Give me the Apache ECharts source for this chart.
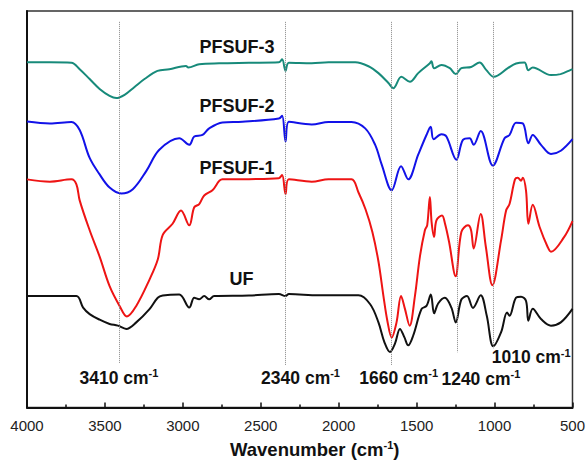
<!DOCTYPE html>
<html>
<head>
<meta charset="utf-8">
<script src="https://cdn.jsdelivr.net/npm/echarts@6/dist/echarts.min.js"></script>
<style>
html,body{margin:0;padding:0;background:#fff;}
#chart{width:588px;height:464px;}
</style>
</head>
<body>
<div id="chart"></div>
<script>
// ---- data (wavenumber in cm-1, transmittance in arbitrary offset units) ----
const xTicks = [4000, 3500, 3000, 2500, 2000, 1500, 1000, 500];
const peakWn = [3410, 2340, 1660, 1240, 1010];
const peakLabels = ['3410 cm', '2340 cm', '1660 cm', '1240 cm', '1010 cm'];
const seriesNames = ['PFSUF-3', 'PFSUF-2', 'PFSUF-1', 'UF'];

const wnPF3 = [4000,3853,3715,3662,3598,3534,3470,3427,3374,3310,3246,3163,3087,2980,2965,2895,2767,2576,2384,2363,2341,2320,2173,2065,1894,1809,1745,1681,1650,1598,1543,1490,1415,1405,1388,1341,1287,1249,1213,1150,1096,1054,1005,915,862,808,783,755,638,577,511,500];
const tPF3 = [350,350,349.5,343,333,323,316,313.7,317,325,333,341.3,343,346.3,344.7,348,349,349.5,350,353,341.3,349.5,349,350,350,346,339,329,323.7,335.3,330.3,339,349,351,344,347.3,344,338,344,345.3,349.7,342.3,335.3,344,348.7,349.7,342,344.7,337,338,342.3,343];

const wnPF2 = [4000,3853,3715,3662,3598,3534,3470,3395,3321,3235,3151,3023,2959,2927,2874,2831,2746,2618,2384,2363,2341,2320,2173,2065,1918,1830,1766,1724,1660,1600,1554,1490,1437,1410,1391,1341,1309,1245,1203,1160,1134,1089,1011,936,904,862,819,783,755,702,638,575,500];
const tPF2 = [290,288,289.5,281.3,253,236.3,223,217,221.3,239.7,261.3,273,266.3,274.7,276.3,283,289,289.7,293,295.7,269.7,289.7,287,289.5,289.5,283,266.3,246.3,220.3,244.7,231.3,256.3,276.3,284.7,272,277,274.7,251.3,271.3,273,266.3,280.3,245.3,273,276.3,288.7,288,268,276.3,266.3,257,260.3,272];

const wnPF1 = [4000,3853,3715,3683,3662,3598,3534,3470,3406,3359,3299,3214,3161,3129,3066,3012,2959,2927,2895,2863,2810,2746,2576,2384,2363,2341,2320,2173,2065,1918,1873,1828,1784,1745,1713,1688,1660,1629,1600,1575,1545,1511,1479,1447,1432,1415,1404,1388,1373,1337,1319,1292,1250,1213,1171,1151,1134,1089,1056,1014,958,926,904,869,851,830,819,798,783,755,711,660,638,553,500];
const tPF1 = [231.3,229,231.3,226.3,210,179.7,153,123,103,92.3,103,129.7,150,175,186.3,199.7,184.7,203,206.3,215,220.3,231.3,231.5,232.5,235.7,216.3,231.3,229,231.5,231.3,218,201,178,148,113,88,71,86.3,113,100,83,113,153,179.7,185,213.5,188,173,189.7,194.7,187,168,133,178,184.7,180,161.3,196.3,163,124,169.7,199.7,206.3,231.3,233,230,233,219.7,186.3,205.5,183,163,158,173,189];

const wnUF = [4000,3853,3683,3640,3598,3534,3470,3417,3363,3299,3214,3161,3129,3023,2959,2927,2895,2863,2831,2799,2576,2384,2341,2320,2129,1873,1798,1745,1707,1671,1639,1607,1579,1554,1522,1469,1437,1409,1388,1362,1319,1277,1249,1213,1177,1139,1089,1050,1008,958,920,904,862,830,798,783,755,702,638,575,500];
const tUF = [113,113,113,101.3,94.7,89,84.7,83,79.7,86.3,99.7,111.3,113.5,114.5,101.3,111.3,109.7,113,109.7,113,113.5,115,113,115,113.7,113.7,104.7,86.3,66.3,56.3,64.7,79.7,71.3,63,73,99.7,103,114.5,95.5,105.5,111.3,101.3,86.3,109.5,113,101,113.7,93,62,76.3,96.3,93,111.3,112.3,108,88,100,89.7,83,86.3,100];

// ---- styles ----
const FONT = "'Liberation Sans', Arial, sans-serif";
const colors = ['#178a7a', '#1212e8', '#ee1414', '#111111'];
const pairs = (w, t) => w.map((x, i) => [x, t[i]]);

const richCm = {
  a: {fontSize: 17.5, fontWeight: 'bold', color: '#111', fontFamily: FONT, lineHeight: 20},
  s: {fontSize: 11, fontWeight: 'bold', color: '#111', fontFamily: FONT, verticalAlign: 'top', lineHeight: 12}
};

// label placement (style)
const seriesLabelPos = [[2652, 365], [2652, 306], [2652, 243], [2624, 130]];
const peakLabelPos = [[3410, 30], [2245, 30], [1615, 30], [1088, 29], [765, 51]];
const peakLineTop = 391;
const peakLineBottom = [45, 43, 43, 56, 60];

const dataSets = [pairs(wnPF3, tPF3), pairs(wnPF2, tPF2), pairs(wnPF1, tPF1), pairs(wnUF, tUF)];

const series = dataSets.map((d, i) => ({
  name: seriesNames[i],
  type: 'line',
  data: d,
  smooth: 0.35,
  showSymbol: false,
  symbol: 'none',
  lineStyle: {color: colors[i], width: 2},
  z: 3,
  markPoint: {
    symbol: 'rect', symbolSize: 1, silent: true,
    itemStyle: {color: 'rgba(0,0,0,0)'},
    data: [{coord: seriesLabelPos[i], value: seriesNames[i]}],
    label: {show: true, position: 'inside', formatter: seriesNames[i],
      fontSize: 18, fontWeight: 'bold', color: '#111', fontFamily: FONT}
  }
}));

// reference lines + peak labels
series.push({
  type: 'line', data: [], silent: true, z: 1,
  markLine: {
    silent: true, symbol: ['none', 'none'], animation: false,
    label: {show: false},
    lineStyle: {type: 'dotted', color: '#888', width: 1},
    data: peakWn.map((w, i) => [{coord: [w, peakLineTop]}, {coord: [w, peakLineBottom[i]]}])
  },
  markPoint: {
    symbol: 'rect', symbolSize: 1, silent: true,
    itemStyle: {color: 'rgba(0,0,0,0)'},
    data: peakWn.map((w, i) => ({coord: peakLabelPos[i], value: w,
      label: {formatter: '{a|' + peakLabels[i] + '}{s|-1}'}})),
    label: {show: true, position: 'inside', rich: richCm}
  }
});

const chart = echarts.init(document.getElementById('chart'), null, {renderer: 'svg'});
chart.setOption({
  animation: false,
  backgroundColor: '#fff',
  grid: {left: 27, right: 13, top: 11, bottom: 51, show: true, borderColor: '#333', borderWidth: 1.5, backgroundColor: 'transparent'},
  xAxis: {
    type: 'value', inverse: true, min: 500, max: 4000, interval: 500,
    axisLine: {show: true, onZero: false, lineStyle: {color: '#111', width: 2}},
    axisTick: {show: true, inside: true, length: 5, lineStyle: {color: '#111', width: 1.5}},
    minorTick: {show: true, splitNumber: 2, length: 3, lineStyle: {color: '#111', width: 1.5}},
    splitLine: {show: false},
    axisLabel: {fontSize: 15, color: '#222', fontFamily: FONT, margin: 10,
      formatter: v => xTicks.includes(v) ? String(v) : ''},
    name: '{a|Wavenumber (cm}{s|-1}{a|)}',
    nameLocation: 'middle', nameGap: 32,
    nameTextStyle: {padding: [0, 0, 0, 30], rich: {
      a: {fontSize: 18.5, fontWeight: 'bold', color: '#111', fontFamily: FONT, lineHeight: 20},
      s: {fontSize: 11, fontWeight: 'bold', color: '#111', fontFamily: FONT, verticalAlign: 'top', lineHeight: 12}
    }}
  },
  yAxis: {
    type: 'value', min: 0, max: 402,
    axisLine: {show: true, lineStyle: {color: '#111', width: 2}},
    axisTick: {show: false}, axisLabel: {show: false}, splitLine: {show: false}
  },
  series: series
});
</script>
</body>
</html>
